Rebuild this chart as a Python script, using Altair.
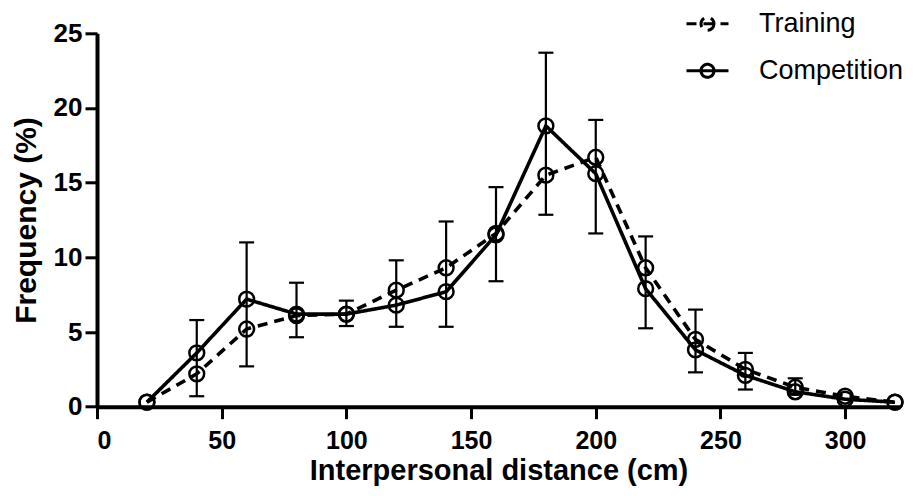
import altair as alt
import pandas as pd

# ---- data ----
distance = [20, 40, 60, 80, 100, 120, 140, 160, 180, 200, 220, 240, 260, 280, 300, 320]
training = [0.3, 2.2, 5.2, 6.1, 6.2, 7.8, 9.3, 11.6, 15.5, 16.7, 9.3, 4.5, 2.5, 1.3, 0.7, 0.3]
competition = [0.3, 3.6, 7.2, 6.2, 6.2, 6.8, 7.7, 11.5, 18.8, 15.6, 7.9, 3.8, 2.1, 1.0, 0.5, 0.3]

err_distance = [40, 60, 80, 100, 120, 140, 160, 180, 200, 220, 240, 260, 280]
err_low = [0.7, 2.7, 4.65, 5.4, 5.35, 5.35, 8.4, 12.85, 11.6, 5.25, 2.3, 1.15, 0.8]
err_high = [5.8, 11.0, 8.3, 7.1, 9.8, 12.4, 14.7, 23.7, 19.2, 11.4, 6.5, 3.6, 1.9]

series_names = ["Training", "Competition"]
x_ticks = [0, 50, 100, 150, 200, 250, 300]
y_ticks = [0, 5, 10, 15, 20, 25]

# ---- tables ----
rows = []
for d, t, c in zip(distance, training, competition):
    rows.append({"distance": d, "series": "Training", "freq": t})
    rows.append({"distance": d, "series": "Competition", "freq": c})
df = pd.DataFrame(rows)
err_df = pd.DataFrame({"distance": err_distance, "low": err_low, "high": err_high})

FONT = "Liberation Sans"

x_enc = alt.X(
    "distance:Q",
    scale=alt.Scale(domain=[0, 322], nice=False, zero=False),
    axis=alt.Axis(values=x_ticks, title="Interpersonal distance (cm)", labelPadding=10,
                  labelFontSize=25, titlePadding=3, titleFontSize=29),
)
y_scale = alt.Scale(domain=[0, 25], nice=False)
y_axis = alt.Axis(values=y_ticks, title="Frequency (%)", labelPadding=3, titlePadding=12)

legend_path = "M-1,0H1M0.31,0A0.31,0.31 0 1 1 -0.31,0A0.31,0.31 0 1 1 0.31,0"

lines = alt.Chart(df).mark_line(color="black", strokeWidth=3.6).encode(
    x=x_enc,
    y=alt.Y("freq:Q", scale=y_scale, axis=y_axis),
    strokeDash=alt.StrokeDash(
        "series:N",
        scale=alt.Scale(domain=series_names, range=[[10, 7], [1, 0]]),
        legend=alt.Legend(
            title=None,
            orient="none",
            legendX=588,
            legendY=-32,
            symbolType=legend_path,
            symbolSize=1764,
            symbolStrokeWidth=3,
            symbolStrokeColor="black",
            symbolFillColor="transparent",
            labelFont=FONT,
            labelFontSize=27,
            labelColor="black",
            labelOffset=29,
            rowPadding=11,
        ),
    ),
)

points = alt.Chart(df).mark_point(
    shape="circle", size=220, strokeWidth=2.5, color="black", filled=False, opacity=1
).encode(
    x="distance:Q",
    y="freq:Q",
    detail="series:N",
)

bars = alt.Chart(err_df).mark_rule(color="black", strokeWidth=2.2).encode(
    x="distance:Q",
    y="low:Q",
    y2="high:Q",
)

caps = alt.Chart(err_df).transform_fold(["low", "high"], as_=["end", "value"]).mark_tick(
    color="black", orient="horizontal", size=15, thickness=2.2, opacity=1
).encode(
    x="distance:Q",
    y="value:Q",
)

chart = (
    alt.layer(bars, caps, lines, points)
    .properties(
        width=803,
        height=373.4,
        autosize=alt.AutoSizeParams(type="none"),
        padding={"left": 89, "top": 25.3, "right": 6, "bottom": 81},
    )
    .configure_view(stroke=None)
    .configure_axis(
        grid=False,
        domainColor="black",
        domainWidth=4,
        tickColor="black",
        tickWidth=3,
        tickSize=12,
        labelFont=FONT,
        labelFontWeight="bold",
        labelFontSize=26,
        labelColor="black",
        titleFont=FONT,
        titleFontWeight="bold",
        titleFontSize=30,
        titleColor="black",
    )
)

chart.save("out.html", embed_options={"renderer": "svg", "actions": False})
